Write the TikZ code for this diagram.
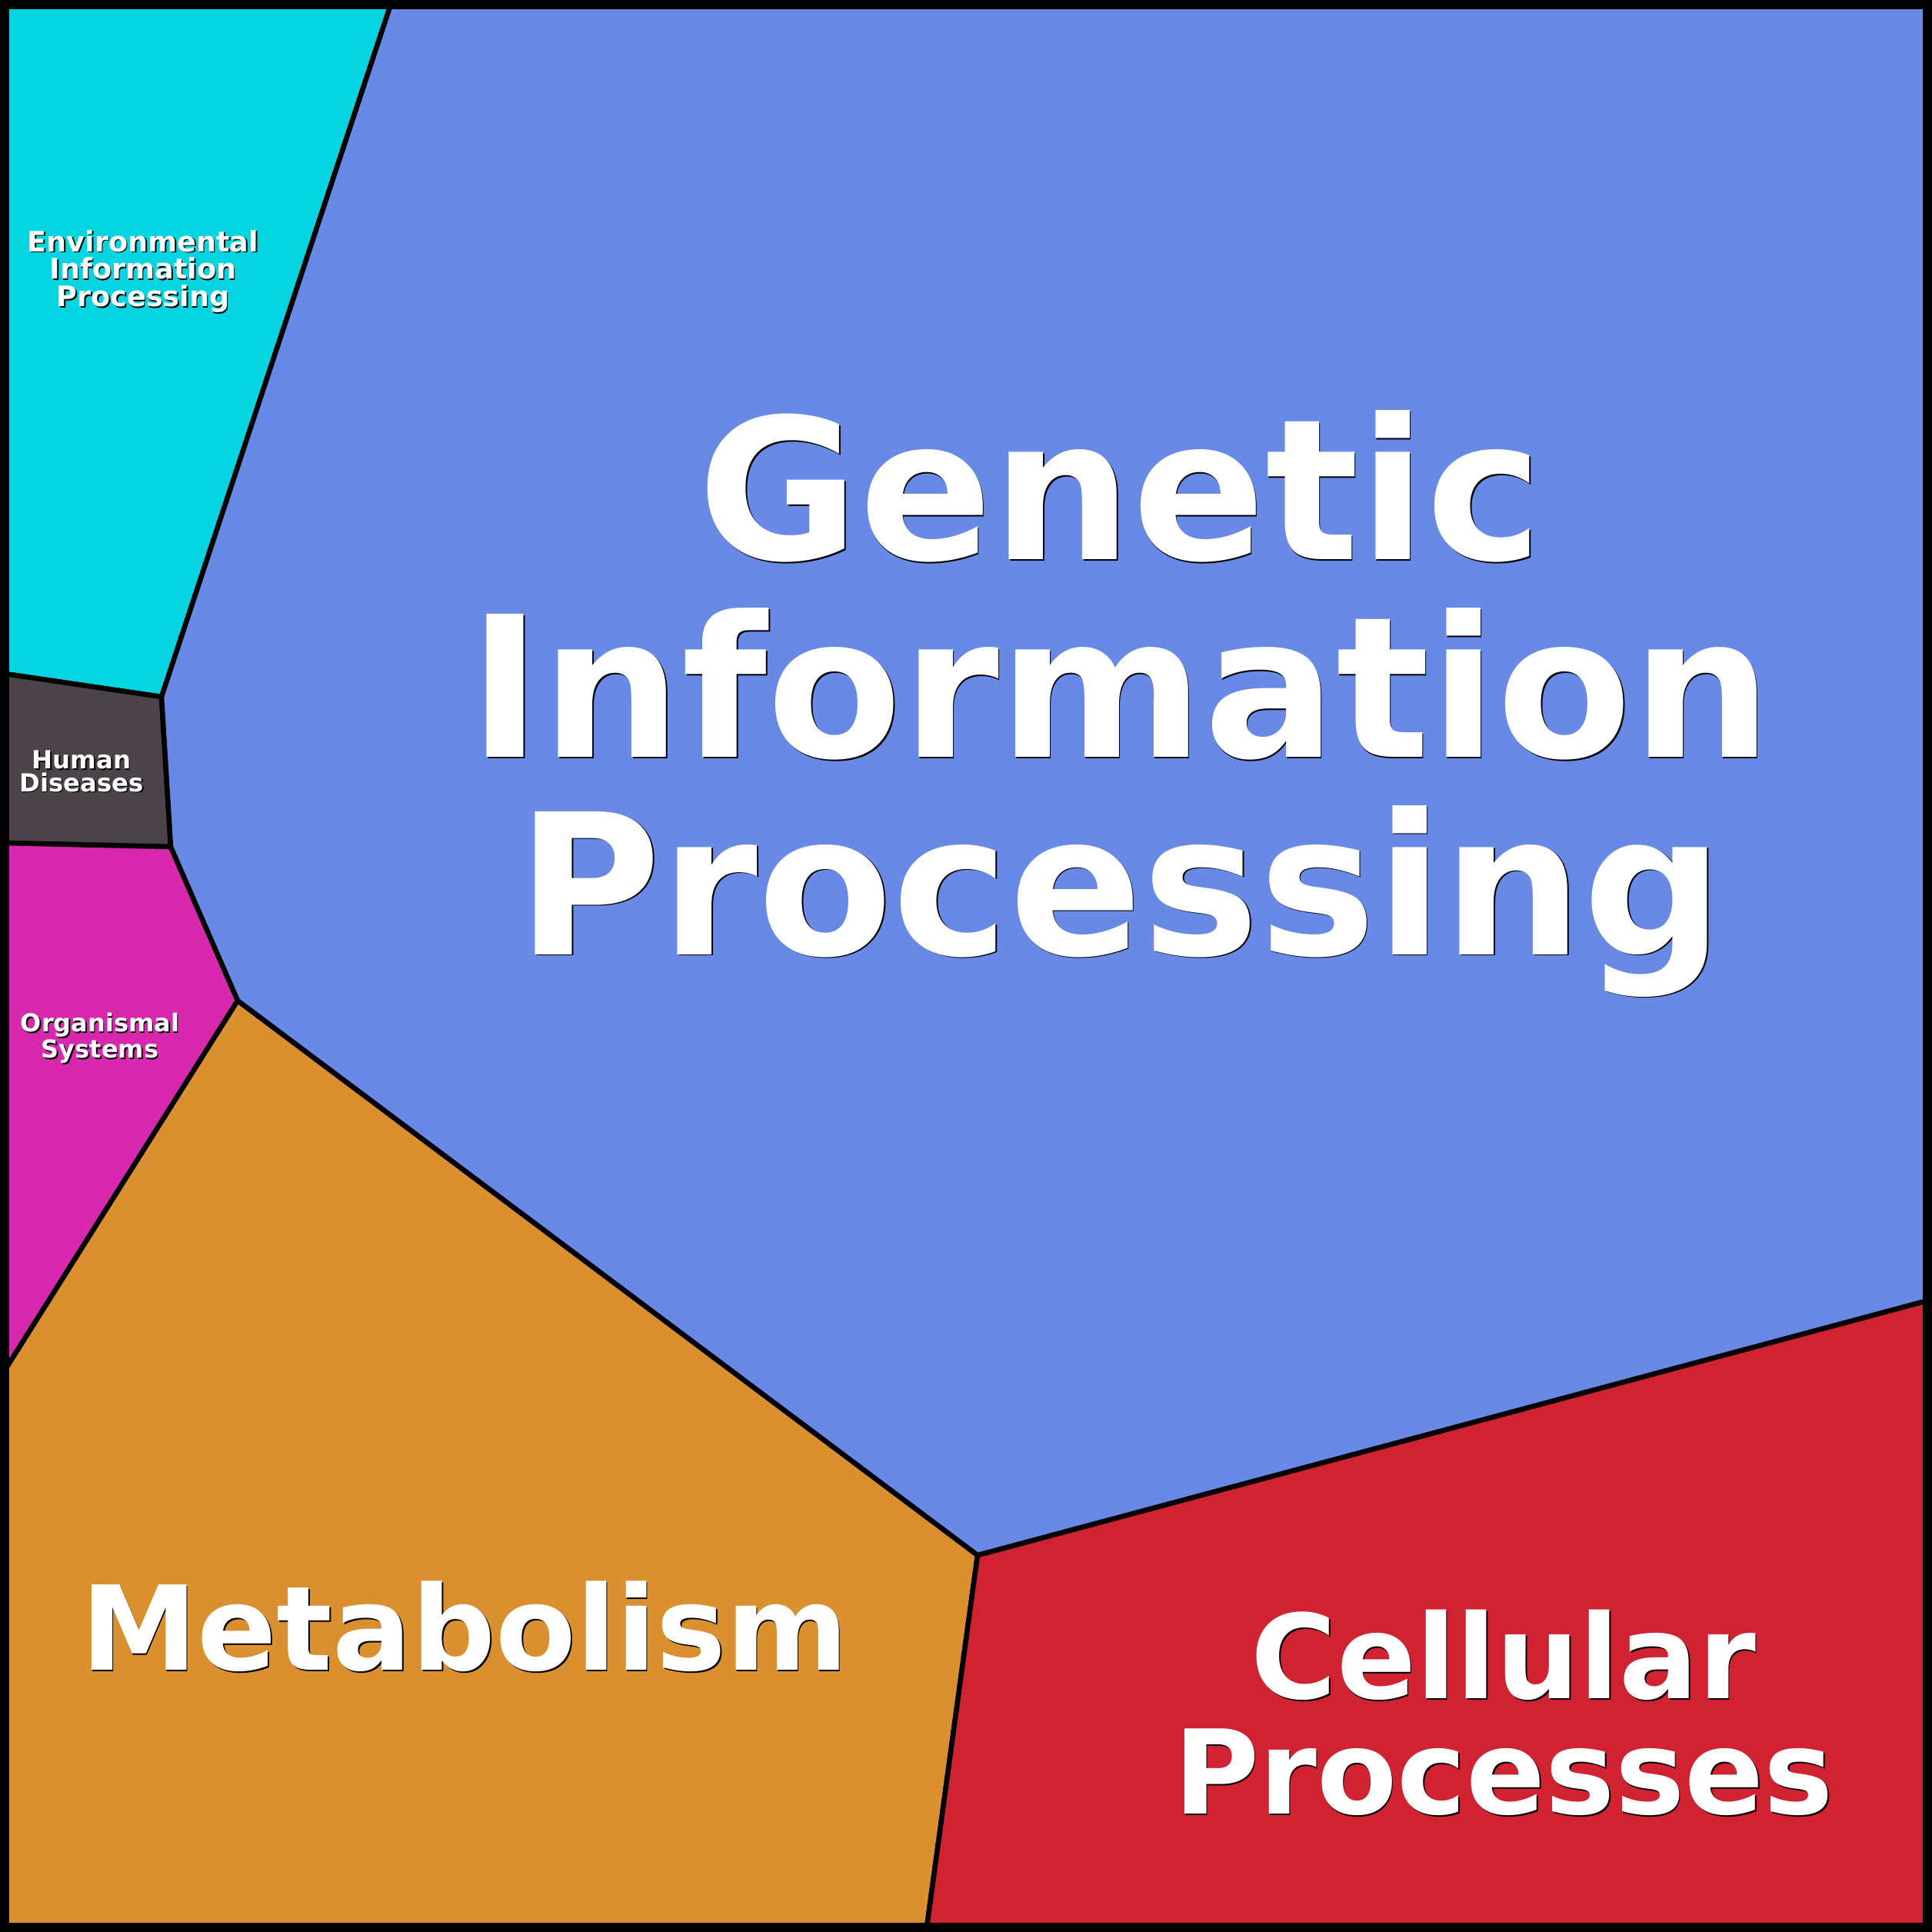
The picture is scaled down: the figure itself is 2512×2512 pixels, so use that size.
\documentclass[tikz,border=0pt]{standalone}
\usepackage{fontspec}
\setmainfont{DejaVu Sans}
\definecolor{envcol}{RGB}{5,213,224}
\definecolor{humcol}{RGB}{75,66,74}
\definecolor{orgcol}{RGB}{216,40,174}
\definecolor{metcol}{RGB}{219,144,48}
\definecolor{celcol}{RGB}{209,34,49}
\definecolor{gencol}{RGB}{104,137,229}
\begin{document}
\begin{tikzpicture}[x=0.01cm, y=-0.01cm,
    cell/.style={draw=black, line width=1.85pt, line join=miter},
    lbl/.style={text=white, align=center, inner sep=0pt},
    shade/.style={text=black, align=center, inner sep=0pt, xshift=0.45pt, yshift=-0.45pt}]
    \useasboundingbox (0,0) rectangle (2512,2512);

    \coordinate (tl) at (6,6);
    \coordinate (tr) at (2506,6);
    \coordinate (br) at (2506,2506);
    \coordinate (bl) at (6,2506);
    \coordinate (a) at (508,6);
    \coordinate (b) at (210,906);
    \coordinate (c) at (6,876);
    \coordinate (d) at (222,1101);
    \coordinate (e) at (6,1096);
    \coordinate (f) at (309,1301);
    \coordinate (g) at (6,1782);
    \coordinate (h) at (1271,2022);
    \coordinate (i) at (2506,1691);
    \coordinate (j) at (1205,2506);

    \filldraw[cell, fill=envcol] (tl) -- (a) -- (b) -- (c) -- cycle;
    \filldraw[cell, fill=humcol] (c) -- (b) -- (d) -- (e) -- cycle;
    \filldraw[cell, fill=orgcol] (e) -- (d) -- (f) -- (g) -- cycle;
    \filldraw[cell, fill=metcol] (g) -- (f) -- (h) -- (j) -- (bl) -- cycle;
    \filldraw[cell, fill=celcol] (h) -- (i) -- (br) -- (j) -- cycle;
    \filldraw[cell, fill=gencol] (a) -- (tr) -- (i) -- (h) -- (f) -- (d) -- (b) -- cycle;

    % labels, each with a dark copy behind it
    \node[shade, font=\bfseries\fontsize{72.6}{73}\selectfont] (genS) at (1457,915) {Genetic\\Information\\Processing};
    \node[lbl, font=\bfseries\fontsize{72.6}{73}\selectfont] (gen) at (1457,915) {Genetic\\Information\\Processing};
    \node[shade, font=\bfseries\fontsize{43.3}{42.7}\selectfont] (metS) at (604,2115) {Metabolism};
    \node[lbl, font=\bfseries\fontsize{43.3}{42.7}\selectfont] (met) at (604,2115) {Metabolism};
    \node[shade, font=\bfseries\fontsize{43.2}{42.7}\selectfont] (celS) at (1955,2227) {Cellular\\Processes};
    \node[lbl, font=\bfseries\fontsize{43.2}{42.7}\selectfont] (cel) at (1955,2227) {Cellular\\Processes};
    \node[shade, font=\bfseries\fontsize{10.4}{10.2}\selectfont] (envS) at (186,353) {Environmental\\Information\\Processing};
    \node[lbl, font=\bfseries\fontsize{10.4}{10.2}\selectfont] (env) at (186,353) {Environmental\\Information\\Processing};
    \node[shade, font=\bfseries\fontsize{9.2}{8.4}\selectfont] (humS) at (106,1003) {Human\\Diseases};
    \node[lbl, font=\bfseries\fontsize{9.2}{8.4}\selectfont] (hum) at (106,1003) {Human\\Diseases};
    \node[shade, font=\bfseries\fontsize{9.1}{8.4}\selectfont] (orgS) at (130,1350) {Organismal\\Systems};
    \node[lbl, font=\bfseries\fontsize{9.1}{8.4}\selectfont] (org) at (130,1350) {Organismal\\Systems};

    \draw[line width=3.41pt] (tl) rectangle (br);
\end{tikzpicture}
\end{document}
